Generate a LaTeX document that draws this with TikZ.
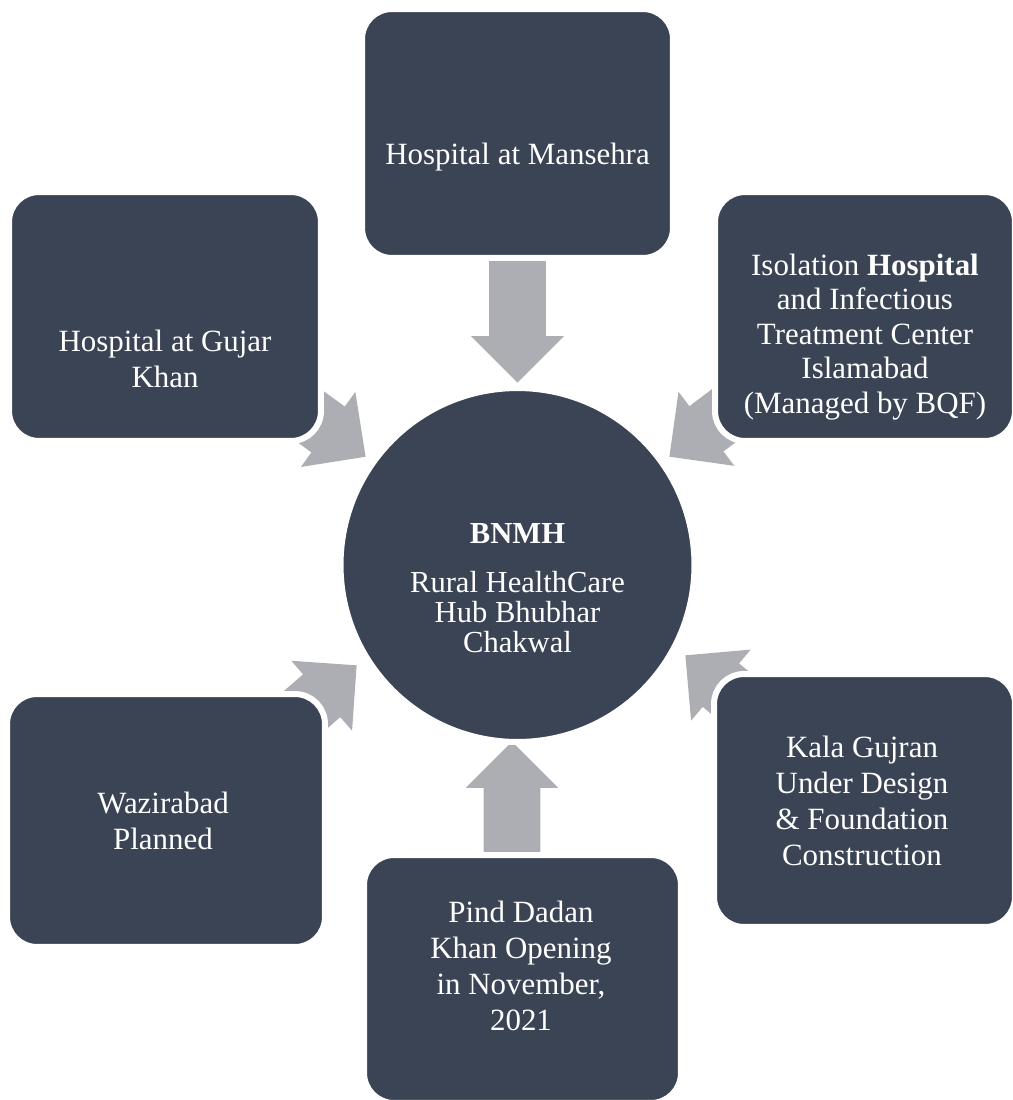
\documentclass[tikz,border=0pt]{standalone}
\usepackage{fontspec}
\setmainfont{Liberation Serif}
\usetikzlibrary{shapes.arrows}

\definecolor{slate}{RGB}{59,68,84}
\definecolor{arrowgray}{RGB}{173,174,180}

\begin{document}
\begin{tikzpicture}[
		x=0.02cm, y=-0.02cm,
		% Dark rounded boxes with a white outline
		box style/.style={rectangle, rounded corners=0.6cm, fill=slate, draw=white, line width=0.12cm, inner sep=0pt},
		% White text inside the boxes
		text style/.style={text=white, align=center, inner sep=0pt, font=\fontsize{17.6pt}{20.6pt}\selectfont},
		% Grey block arrows, placed by their tip (shaft 56px, head 92px)
		arrow style/.style={single arrow, fill=arrowgray, draw=none, inner xsep=0pt, inner ysep=0.56cm, single arrow head extend=0.36cm, single arrow tip angle=90, anchor=tip}
	]
	\useasboundingbox (0,0) rectangle (1013,1100);

	% =================================
	% ARROWS (drawn first, boxes cover their tails)
	% =================================
	\node[arrow style, minimum height=2.66cm, rotate=-90] (aMansehra) at (517.5,383) {};
	\node[arrow style, minimum height=1.72cm, rotate=-36] (aGujar) at (366,457) {};
	\node[arrow style, minimum height=1.72cm, rotate=217] (aIsolation) at (669,457) {};
	\node[arrow style, minimum height=1.72cm, rotate=41] (aWazirabad) at (357,665) {};
	\node[arrow style, minimum height=2.50cm, rotate=90] (aPind) at (512,741) {};
	\node[arrow style, minimum height=1.72cm, rotate=140] (aKala) at (685,655) {};

	% =================================
	% OUTER BOXES
	% =================================
	\node[box style, minimum width=6.22cm, minimum height=4.98cm] (mansehra) at (517.5,133.5) {};
	\node[box style, minimum width=6.24cm, minimum height=4.98cm] (gujar) at (165,316.5) {};
	\node[box style, minimum width=6.00cm, minimum height=4.98cm] (isolation) at (865,316.5) {};
	\node[box style, minimum width=6.36cm, minimum height=5.06cm] (wazirabad) at (166,820.5) {};
	\node[box style, minimum width=6.34cm, minimum height=4.96cm] (pind) at (522.5,979) {};
	\node[box style, minimum width=6.02cm, minimum height=5.06cm] (kala) at (864.5,800.5) {};

	% =================================
	% CENTRAL HUB
	% =================================
	\node[circle, fill=slate, draw=white, line width=0.12cm, minimum size=7.08cm] (hub) at (517.5,565) {};

	% =================================
	% TEXTS
	% =================================
	\node[text style] (tMansehra) at (517.5,157) {Hospital at Mansehra};
	\node[text style] (tGujar) at (165,359) {Hospital at Gujar\\Khan};
	\node[text style, font=\fontsize{17.6pt}{19.6pt}\selectfont] (tIsolation) at (865,337) {Isolation \textbf{Hospital}\\and Infectious\\Treatment Center\\Islamabad\\(Managed by BQF)};
	\node[text style] (tWazirabad) at (163,821) {Wazirabad\\Planned};
	\node[text style] (tPind) at (521,966) {Pind Dadan\\Khan Opening\\in November,\\2021};
	\node[text style] (tKala) at (862,801) {Kala Gujran\\Under Design\\\& Foundation\\Construction};
	\node[text style, font=\fontsize{17.4pt}{17pt}\selectfont] (tHub) at (517.5,588) {\textbf{BNMH}\\[0.38cm]Rural HealthCare\\Hub Bhubhar\\Chakwal};

\end{tikzpicture}
\end{document}
